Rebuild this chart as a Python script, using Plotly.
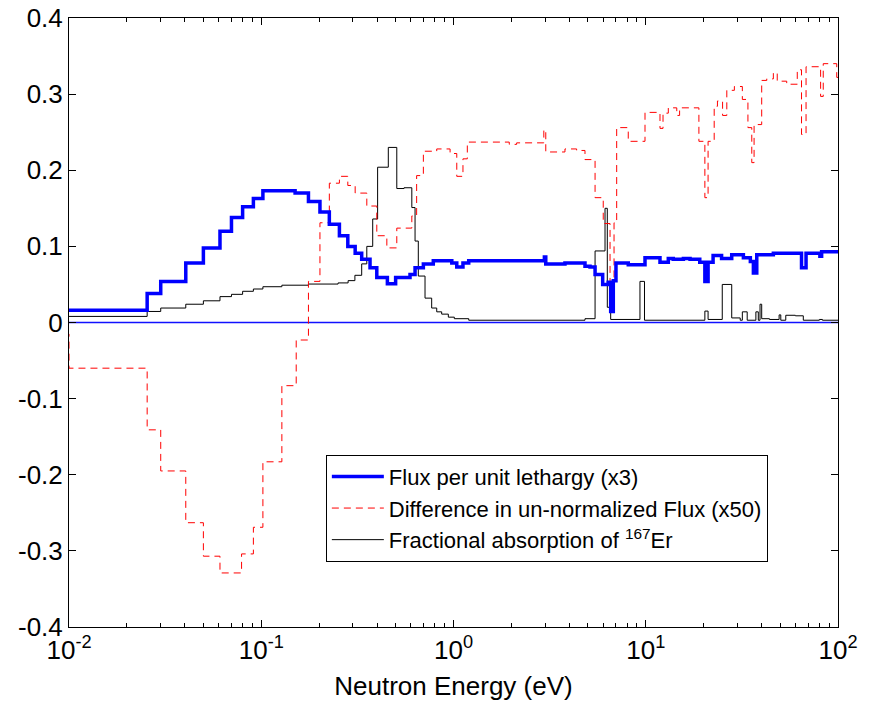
import plotly.graph_objects as go

# ---------------- data (energies in eV, step functions: value holds from edge to next edge)
flux_E = [0.01, 0.0255, 0.030, 0.0405, 0.050, 0.061, 0.070, 0.080, 0.091, 0.102,
          0.150, 0.176, 0.202, 0.226, 0.255, 0.282, 0.308, 0.333, 0.368, 0.399,
          0.453, 0.500, 0.594, 0.631, 0.697, 0.785, 0.98, 1.04, 1.12, 1.20,
          2.97, 3.02, 3.80, 4.83, 5.13, 5.45, 5.97, 6.38, 6.57, 6.78,
          7.0, 8.11, 9.91, 11.86, 13.1, 13.9, 15.7, 17.0, 19.1, 20.3,
          21.1, 22.4, 24.8, 28.0, 32.2, 35.0, 36.3, 37.8, 46.1, 64.6,
          68.2, 80.5, 82.2]
flux_v = [0.016, 0.038, 0.054, 0.078, 0.098, 0.120, 0.138, 0.152, 0.163, 0.173,
          0.170, 0.159, 0.145, 0.129, 0.114, 0.100, 0.091, 0.083, 0.072, 0.059,
          0.051, 0.059, 0.063, 0.072, 0.077, 0.081, 0.078, 0.073, 0.078, 0.081,
          0.086, 0.077, 0.078, 0.074, 0.073, 0.063, 0.050, 0.053, 0.0145, 0.055,
          0.078, 0.076, 0.085, 0.079, 0.084, 0.083, 0.084, 0.083, 0.079, 0.054,
          0.079, 0.088, 0.084, 0.089, 0.085, 0.080, 0.065, 0.089, 0.091, 0.072,
          0.091, 0.087, 0.093]

diff_E = [0.0095, 0.01, 0.0255, 0.030, 0.0405, 0.050, 0.061, 0.079, 0.091, 0.102,
          0.128, 0.152, 0.176, 0.202, 0.226, 0.255, 0.282, 0.308, 0.354, 0.399,
          0.450, 0.507, 0.607, 0.643, 0.697, 0.818, 0.96, 1.04, 1.12, 1.18,
          1.95, 2.13, 2.95, 3.02, 3.80, 4.37, 4.83, 5.45, 6.01, 6.52,
          6.84, 7.06, 8.11, 9.91, 11.86, 12.3, 13.1, 14.5, 15.0, 18.9,
          20.3, 21.1, 22.7, 23.6, 25.1, 26.4, 28.9, 31.8, 34.0, 35.6,
          36.6, 40.1, 42.6, 46.1, 48.3, 54.1, 61.4, 64.6, 68.2, 81.2,
          83.8, 98.5]
diff_v = [-0.015, -0.060, -0.141, -0.195, -0.263, -0.307, -0.329, -0.304, -0.269, -0.183,
          -0.083, -0.023, 0.054, 0.131, 0.183, 0.192, 0.180, 0.170, 0.153, 0.114,
          0.098, 0.124, 0.140, 0.193, 0.225, 0.228, 0.222, 0.192, 0.215, 0.237,
          0.234, 0.236, 0.253, 0.224, 0.228, 0.226, 0.214, 0.164, 0.130, 0.030,
          0.131, 0.256, 0.238, 0.276, 0.255, 0.275, 0.282, 0.272, 0.282, 0.238,
          0.164, 0.238, 0.284, 0.291, 0.272, 0.305, 0.310, 0.293, 0.256, 0.210,
          0.260, 0.318, 0.320, 0.328, 0.317, 0.313, 0.332, 0.247, 0.336, 0.297,
          0.340, 0.322]

absorb_E = [0.01, 0.0255, 0.030, 0.0405, 0.050, 0.061, 0.070, 0.080, 0.091, 0.102,
            0.128, 0.176, 0.251, 0.283, 0.307, 0.333, 0.354, 0.380, 0.403, 0.458,
            0.507, 0.553, 0.607, 0.631, 0.656, 0.711, 0.77, 0.818, 0.868, 0.94,
            1.01, 1.20, 4.83, 5.45, 6.14, 6.31, 6.57, 9.33, 9.85, 20.3,
            21.1, 25.0, 28.0, 31.0, 31.8, 33.7, 37.4, 38.5, 39.3, 40.1,
            44.0, 49.4, 50.4, 53.5, 60.0, 66.0, 80.0, 83.0]
absorb_v = [0.008, 0.0145, 0.019, 0.024, 0.0285, 0.034, 0.037, 0.041, 0.044, 0.047,
            0.049, 0.0505, 0.052, 0.055, 0.062, 0.077, 0.100, 0.136, 0.204, 0.230,
            0.176, 0.177, 0.151, 0.107, 0.061, 0.032, 0.019, 0.014, 0.011, 0.007,
            0.005, 0.003, 0.005, 0.094, 0.150, 0.020, 0.004, 0.054, 0.003, 0.015,
            0.004, 0.050, 0.006, 0.003, 0.014, 0.003, 0.014, 0.003, 0.024, 0.005,
            0.004, 0.010, 0.003, 0.0095, 0.0088, 0.003, 0.004, 0.003]

E_MIN = 0.01
E_MAX = 100.0
x_tick_vals = [0.01, 0.1, 1, 10, 100]
x_tick_text = ["10<sup>-2</sup>", "10<sup>-1</sup>", "10<sup>0</sup>", "10<sup>1</sup>", "10<sup>2</sup>"]
y_tick_vals = [-0.4, -0.3, -0.2, -0.1, 0, 0.1, 0.2, 0.3, 0.4]
y_tick_text = ["-0.4", "-0.3", "-0.2", "-0.1", "0", "0.1", "0.2", "0.3", "0.4"]

names = ["Flux per unit lethargy (x3)",
         "Difference in un-normalized Flux (x50)",
         "Fractional absorption of <sup>167</sup>Er"]


def step(edges, vals):
    return list(edges) + [E_MAX], list(vals) + [vals[-1]]


FONT = "Liberation Sans, Arial, sans-serif"

fig = go.Figure()

# zero line
fig.add_trace(go.Scatter(x=[E_MIN, E_MAX], y=[0, 0], mode="lines",
                         line=dict(color="#1010FF", width=1.4), showlegend=False,
                         hoverinfo="skip"))

x, y = step(absorb_E, absorb_v)
fig.add_trace(go.Scatter(x=x, y=y, mode="lines", line_shape="hv",
                         line=dict(color="black", width=1), name=names[2],
                         legendrank=3, legendgroup="c"))
x, y = step(diff_E, diff_v)
fig.add_trace(go.Scatter(x=x, y=y, mode="lines", line_shape="hv",
                         line=dict(color="#FF0000", width=1, dash="7px,5px"), name=names[1],
                         legendrank=2, legendgroup="b"))
x, y = step(flux_E, flux_v)
fig.add_trace(go.Scatter(x=x, y=y, mode="lines", line_shape="hv",
                         line=dict(color="#0000FF", width=3.5), name=names[0],
                         legendrank=1, legendgroup="a"))

minor_vals = [m * 10 ** d for d in range(-2, 2) for m in range(2, 10)]

axis_font = dict(family=FONT, size=26, color="black")

fig.update_layout(
    width=871, height=708,
    margin=dict(l=69, r=33, t=18, b=81),
    paper_bgcolor="white", plot_bgcolor="white",
    font=dict(family=FONT, color="black"),
    showlegend=True,
    legend=dict(x=0.334, y=0.283, xanchor="left", yanchor="top",
                bgcolor="white", bordercolor="black", borderwidth=1,
                font=dict(size=22, family=FONT, color="black"),
                tracegroupgap=0, traceorder="normal", itemwidth=52),
    xaxis=dict(type="log", range=[-2, 2], tickmode="array",
               tickvals=x_tick_vals, ticktext=x_tick_text,
               ticks="inside", ticklen=7, tickcolor="black",
               showline=True, linecolor="black", linewidth=1, mirror="allticks",
               showgrid=False, zeroline=False, tickfont=axis_font, automargin=False,
               minor=dict(tickmode="array", tickvals=minor_vals, ticks="inside",
                          ticklen=4, tickcolor="black", showgrid=False),
               title=dict(text="Neutron Energy (eV)",
                          font=dict(size=26, color="black", family=FONT), standoff=12)),
    yaxis=dict(range=[-0.4, 0.4], tickmode="array",
               tickvals=y_tick_vals, ticktext=y_tick_text,
               ticks="inside", ticklen=7, tickcolor="black", automargin=False,
               showline=True, linecolor="black", linewidth=1, mirror="allticks",
               showgrid=False, zeroline=False, tickfont=axis_font),
)

fig.write_html("out.html")
